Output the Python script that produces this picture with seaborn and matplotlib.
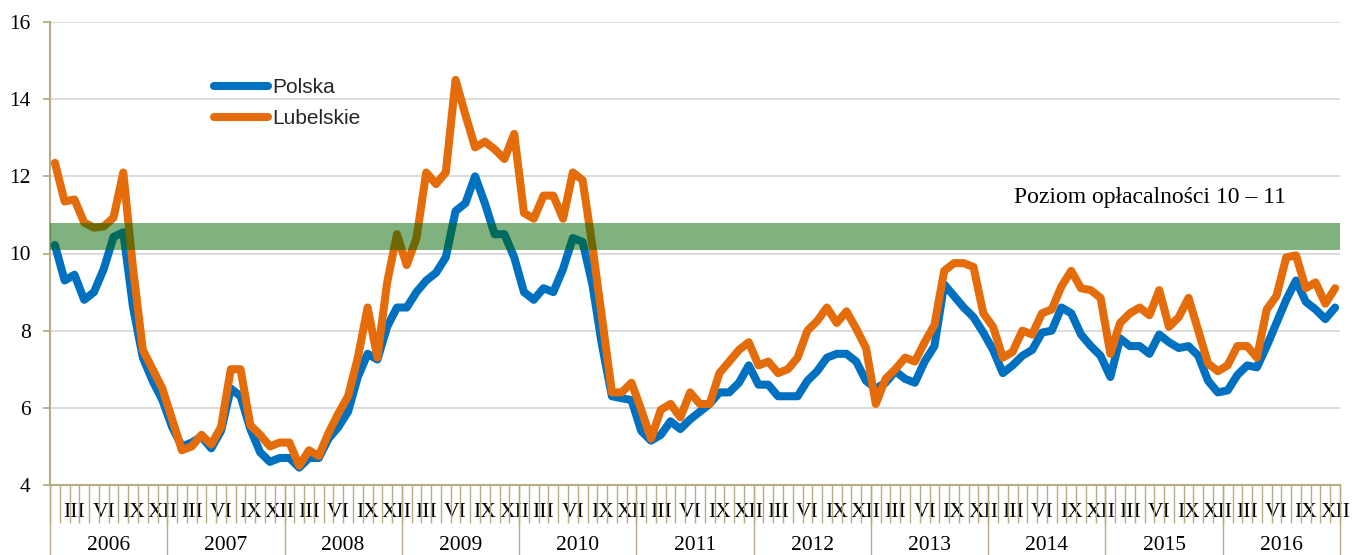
import numpy as np
import pandas as pd
import matplotlib
matplotlib.use("Agg")
import matplotlib.pyplot as plt
import matplotlib.transforms as mtransforms
from matplotlib.lines import Line2D
import seaborn as sns

years = [str(y) for y in range(2006, 2017)]
month_labels = ["III", "VI", "IX", "XII"]
series_names = ["Polska", "Lubelskie"]

polska = [
    10.22, 9.3, 9.45, 8.8, 9.0, 9.6, 10.43, 10.55, 8.6, 7.3, 6.7, 6.2,
    5.5, 5.0, 5.1, 5.25, 4.95, 5.4, 6.5, 6.3, 5.45, 4.85, 4.6, 4.7,
    4.7, 4.45, 4.7, 4.7, 5.2, 5.5, 5.9, 6.8, 7.4, 7.25, 8.1, 8.6,
    8.6, 9.0, 9.3, 9.5, 9.9, 11.1, 11.3, 12.0, 11.3, 10.5, 10.5, 9.9,
    9.0, 8.8, 9.1, 9.0, 9.6, 10.4, 10.3, 9.2, 7.6, 6.3, 6.25, 6.2,
    5.4, 5.15, 5.3, 5.65, 5.45, 5.7, 5.9, 6.1, 6.4, 6.4, 6.65, 7.1,
    6.6, 6.6, 6.3, 6.3, 6.3, 6.7, 6.95, 7.3, 7.4, 7.4, 7.2, 6.7,
    6.5, 6.65, 6.95, 6.75, 6.65, 7.2, 7.6, 9.2, 8.9, 8.6, 8.35, 7.95,
    7.5, 6.9, 7.1, 7.35, 7.5, 7.95, 8.0, 8.6, 8.45, 7.9, 7.6, 7.35,
    6.8, 7.8, 7.6, 7.6, 7.4, 7.9, 7.7, 7.55, 7.6, 7.35, 6.7, 6.4,
    6.45, 6.85, 7.1, 7.05, 7.6, 8.2, 8.8, 9.3, 8.75, 8.55, 8.3, 8.6,
]
lubelskie = [
    12.35, 11.35, 11.4, 10.8, 10.67, 10.7, 10.93, 12.1, 9.6, 7.5, 7.0, 6.5,
    5.7, 4.9, 5.0, 5.3, 5.05, 5.5, 7.0, 7.0, 5.55, 5.3, 5.0, 5.1,
    5.1, 4.5, 4.9, 4.75, 5.35, 5.85, 6.3, 7.3, 8.6, 7.3, 9.25, 10.5,
    9.7, 10.4, 12.1, 11.8, 12.1, 14.5, 13.6, 12.75, 12.9, 12.7, 12.45, 13.1,
    11.05, 10.9, 11.5, 11.5, 10.9, 12.1, 11.9, 10.2, 8.3, 6.4, 6.4, 6.65,
    5.95, 5.2, 5.95, 6.1, 5.75, 6.4, 6.1, 6.1, 6.9, 7.2, 7.5, 7.7,
    7.1, 7.2, 6.9, 7.0, 7.3, 8.0, 8.25, 8.6, 8.2, 8.5, 8.05, 7.55,
    6.1, 6.75, 7.0, 7.3, 7.2, 7.7, 8.15, 9.55, 9.75, 9.75, 9.65, 8.45,
    8.1, 7.3, 7.45, 8.0, 7.9, 8.45, 8.55, 9.15, 9.55, 9.1, 9.05, 8.85,
    7.4, 8.2, 8.45, 8.6, 8.4, 9.05, 8.1, 8.35, 8.85, 8.0, 7.15, 6.95,
    7.1, 7.6, 7.6, 7.3, 8.55, 8.9, 9.9, 9.95, 9.1, 9.25, 8.7, 9.1,
]
band_low, band_high = 10.08, 10.8
band_label = "Poziom opłacalności 10 – 11"

n = len(polska)
df = pd.DataFrame({
    "m": list(range(n)) * 2,
    "v": polska + lubelskie,
    "s": [series_names[0]] * n + [series_names[1]] * n,
})

sns.set_theme(style="white")
plt.rcParams["font.family"] = ["Liberation Serif", "DejaVu Serif"]

W, H = 1354, 555
fig = plt.figure(figsize=(W / 100, H / 100), dpi=100)
ax = fig.add_axes([50 / W, 1 - 485 / H, 1290 / W, 463 / H])

tan = "#B5AC84"
blue = "#0070C0"
orange = "#E46C0A"

sns.lineplot(data=df, x="m", y="v", hue="s", palette=[blue, orange],
             linewidth=5.8, ax=ax, legend=False, zorder=3)
for ln in ax.lines:
    ln.set_solid_capstyle("round")
    ln.set_solid_joinstyle("round")

ax.axhspan(band_low, band_high, color=(0, 0.40, 0), alpha=0.5, lw=0, zorder=4)

ax.set_xlim(-0.5, n - 0.5)
ax.set_ylim(4, 16)
ax.set_yticks(np.arange(4, 17, 2))
ax.yaxis.grid(True, color="#D9D9D9", linewidth=1.3, zorder=0)
ax.xaxis.grid(False)
ax.set_axisbelow(True)
for s in ["top", "right"]:
    ax.spines[s].set_visible(False)
for s in ["left", "bottom"]:
    ax.spines[s].set_color(tan)
    ax.spines[s].set_linewidth(1.5)

ax.tick_params(axis="y", which="major", length=5, width=1.3, color=tan,
               pad=9, labelsize=15.5, labelcolor="black", left=True)

# month labels (major) and month boundaries (minor)
major_pos = [12 * k + j for k in range(len(years)) for j in (2, 5, 8, 11)]
major_lab = [month_labels[j] for k in range(len(years)) for j in range(4)]
ax.set_xticks(major_pos)
ax.set_xticklabels(major_lab)
ax.set_xticks(np.arange(-0.5, n, 1), minor=True)
ax.tick_params(axis="x", which="major", length=0, pad=13, labelsize=15.5,
               labelcolor="black", bottom=True)
ax.tick_params(axis="x", which="minor", length=27, width=1.0, color=tan,
               direction="out", bottom=True)
ax.set_xlabel("")
ax.set_ylabel("")

trans = mtransforms.blended_transform_factory(ax.transData, ax.transAxes)
for k, y in enumerate(years):
    xs = 12 * k - 0.5
    ax.add_line(Line2D([xs, xs], [0, -75 / 463], transform=trans,
                       color=tan, lw=1.0, clip_on=False))
    ax.text(12 * k + 5.5, -60 / 463, y, transform=trans, ha="center",
            va="center", fontsize=15.5, color="black")
ax.add_line(Line2D([n - 0.5, n - 0.5], [0, -75 / 463], transform=trans,
                   color=tan, lw=1.0, clip_on=False))

ax.text(1150 / W, 1 - 198 / H, band_label, transform=fig.transFigure,
        ha="center", va="center", fontsize=17, color="black", zorder=5,
        bbox=dict(boxstyle="square,pad=0.45", fc="white", ec="none"))

handles = [Line2D([0], [0], color=blue, lw=5.8, solid_capstyle="round"),
           Line2D([0], [0], color=orange, lw=5.8, solid_capstyle="round")]
leg = ax.legend(handles, series_names, loc="upper left",
                bbox_to_anchor=(214 / W, 1 - 78 / H),
                bbox_transform=fig.transFigure, frameon=False,
                borderpad=0, borderaxespad=0, handlelength=2.6,
                handletextpad=0.2, labelspacing=0.6,
                prop={"family": "Liberation Sans", "size": 15})

fig.savefig("out.png", dpi=100)
